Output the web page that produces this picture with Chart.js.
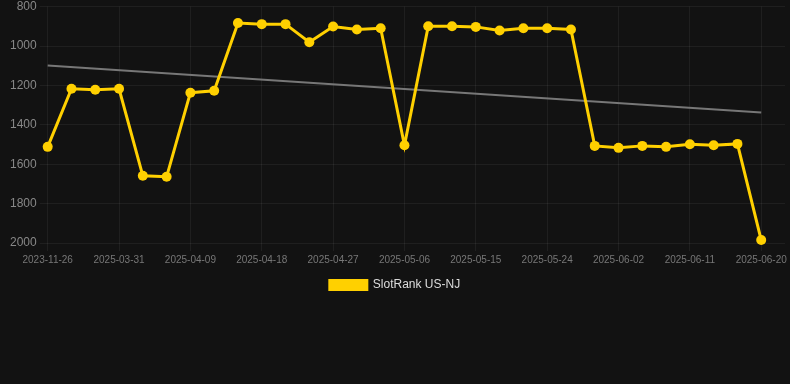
<!DOCTYPE html>
<html>
<head>
<meta charset="utf-8">
<script src="https://cdn.jsdelivr.net/npm/chart.js@4"></script>
<style>
  html, body { margin: 0; padding: 0; background: #121212; }
  #wrap { width: 790px; height: 301px; position: relative; }
</style>
</head>
<body>
<div id="wrap"><canvas id="rankChart"></canvas></div>
<script>
const dates = [
  '2023-11-26', '2025-03-25', '2025-03-28', '2025-03-31', '2025-04-03', '2025-04-06',
  '2025-04-09', '2025-04-12', '2025-04-15', '2025-04-18', '2025-04-21', '2025-04-24',
  '2025-04-27', '2025-04-30', '2025-05-03', '2025-05-06', '2025-05-09', '2025-05-12',
  '2025-05-15', '2025-05-18', '2025-05-21', '2025-05-24', '2025-05-27', '2025-05-30',
  '2025-06-02', '2025-06-05', '2025-06-08', '2025-06-11', '2025-06-14', '2025-06-17',
  '2025-06-20', ''
];

const rankNJ = [
  1512, 1217, 1222, 1217, 1659, 1664, 1237, 1227, 883, 889, 889, 981,
  901, 916, 910, 1504, 900, 900, 903, 921, 910, 910, 916, 1507,
  1517, 1507, 1512, 1499, 1504, 1497, 1985
];

// trend line: only the two end values, the library joins them
const trend = [1099, null, null, null, null, null, null, null, null, null, null, null,
  null, null, null, null, null, null, null, null, null, null, null, null,
  null, null, null, null, null, null, 1337];

const yTicks = [800, 1000, 1200, 1400, 1600, 1800, 2000];

const gridColor = 'rgba(255,255,255,0.06)';
const font = 'Liberation Sans, Arial, sans-serif';

new Chart(document.getElementById('rankChart'), {
  type: 'line',
  data: {
    labels: dates,
    datasets: [
      {
        label: 'SlotRank US-NJ',
        data: rankNJ,
        borderColor: '#ffd000',
        backgroundColor: '#ffd000',
        borderWidth: 3,
        pointRadius: 5,
        pointHoverRadius: 5,
        pointBackgroundColor: '#ffd000',
        pointBorderWidth: 0,
        tension: 0,
        fill: false,
        clip: false
      },
      {
        label: 'trend',
        data: trend,
        borderColor: '#777777',
        borderWidth: 2,
        pointRadius: 0,
        spanGaps: true,
        fill: false
      }
    ]
  },
  options: {
    responsive: true,
    maintainAspectRatio: false,
    animation: false,
    plugins: {
      legend: {
        position: 'bottom',
        labels: {
          color: '#dddddd',
          font: { family: font, size: 12 },
          boxWidth: 37,
          boxHeight: 9,
          filter: item => item.text !== 'trend'
        }
      },
      tooltip: { enabled: false }
    },
    scales: {
      x: {
        grid: {
          color: ctx => (ctx.index % 3 === 0 ? gridColor : 'rgba(0,0,0,0)')
        },
        border: { display: false },
        ticks: {
          color: '#777777',
          font: { family: font, size: 10 },
          maxRotation: 0,
          autoSkip: false,
          callback: (value, index) => (index % 3 === 0 ? dates[index] : '')
        }
      },
      y: {
        reverse: true,
        min: yTicks[0],
        max: yTicks[yTicks.length - 1],
        grid: { color: gridColor },
        border: { display: false },
        afterBuildTicks: axis => { axis.ticks = yTicks.map(v => ({ value: v })); },
        afterFit: axis => { axis.width += 7; },
        ticks: {
          color: '#888888',
          font: { family: font, size: 12, lineHeight: 0.6 },
          callback: v => String(v)
        }
      }
    }
  }
});
</script>
</body>
</html>
